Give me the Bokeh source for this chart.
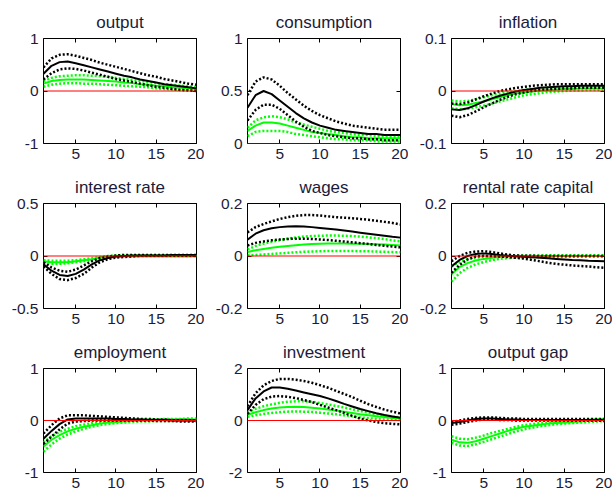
from bokeh.plotting import figure
from bokeh.layouts import column, row
from bokeh.models import Range1d, FixedTicker, LinearAxis, Span
from bokeh.embed import file_html
from bokeh.resources import INLINE

# Horizon (quarters)
periods = list(range(1, 21))
x_ticks = [5, 10, 15, 20]
x_tick_labels = ["5", "10", "15", "20"]

# --- impulse responses: black = model A (median, upper, lower), green = model B ---
output_b  = [0.33, 0.48, 0.55, 0.56, 0.53, 0.49, 0.45, 0.41, 0.37, 0.33, 0.29, 0.26, 0.22, 0.19, 0.16, 0.13, 0.11, 0.09, 0.07, 0.05]
output_bu = [0.45, 0.62, 0.69, 0.70, 0.67, 0.63, 0.59, 0.54, 0.50, 0.46, 0.42, 0.38, 0.34, 0.30, 0.27, 0.23, 0.20, 0.17, 0.14, 0.12]
output_bl = [0.22, 0.34, 0.41, 0.43, 0.42, 0.39, 0.35, 0.31, 0.27, 0.23, 0.20, 0.17, 0.14, 0.11, 0.08, 0.06, 0.04, 0.02, 0.01, 0.00]
output_g  = [0.14, 0.19, 0.21, 0.22, 0.22, 0.22, 0.21, 0.20, 0.19, 0.18, 0.16, 0.15, 0.13, 0.12, 0.10, 0.09, 0.07, 0.06, 0.05, 0.04]
output_gu = [0.19, 0.25, 0.28, 0.29, 0.30, 0.30, 0.29, 0.28, 0.27, 0.25, 0.23, 0.21, 0.19, 0.17, 0.15, 0.13, 0.12, 0.10, 0.09, 0.08]
output_gl = [0.08, 0.12, 0.14, 0.15, 0.15, 0.14, 0.14, 0.13, 0.12, 0.11, 0.10, 0.09, 0.08, 0.07, 0.05, 0.04, 0.03, 0.02, 0.02, 0.01]

cons_b  = [0.34, 0.46, 0.50, 0.47, 0.41, 0.35, 0.29, 0.24, 0.20, 0.17, 0.15, 0.13, 0.12, 0.11, 0.10, 0.09, 0.09, 0.08, 0.08, 0.08]
cons_bu = [0.46, 0.59, 0.63, 0.61, 0.55, 0.48, 0.42, 0.36, 0.31, 0.27, 0.24, 0.21, 0.19, 0.17, 0.16, 0.15, 0.14, 0.13, 0.13, 0.13]
cons_bl = [0.22, 0.32, 0.37, 0.37, 0.33, 0.27, 0.21, 0.16, 0.12, 0.10, 0.08, 0.07, 0.06, 0.05, 0.05, 0.04, 0.04, 0.03, 0.03, 0.03]
cons_g  = [0.12, 0.17, 0.20, 0.20, 0.19, 0.17, 0.15, 0.13, 0.11, 0.10, 0.09, 0.08, 0.07, 0.06, 0.06, 0.05, 0.05, 0.05, 0.05, 0.05]
cons_gu = [0.15, 0.22, 0.25, 0.26, 0.25, 0.23, 0.20, 0.18, 0.16, 0.14, 0.12, 0.11, 0.10, 0.09, 0.08, 0.08, 0.07, 0.07, 0.06, 0.06]
cons_gl = [0.07, 0.11, 0.12, 0.12, 0.12, 0.11, 0.09, 0.08, 0.07, 0.06, 0.05, 0.04, 0.04, 0.03, 0.03, 0.03, 0.02, 0.02, 0.02, 0.02]

infl_b  = [-0.035, -0.036, -0.033, -0.027, -0.020, -0.014, -0.009, -0.005, -0.001, 0.002, 0.004, 0.006, 0.007, 0.008, 0.009, 0.009, 0.010, 0.010, 0.010, 0.010]
infl_bu = [-0.024, -0.025, -0.022, -0.016, -0.010, -0.005, 0.000, 0.003, 0.006, 0.008, 0.010, 0.011, 0.012, 0.013, 0.013, 0.013, 0.013, 0.013, 0.013, 0.013]
infl_bl = [-0.047, -0.050, -0.046, -0.039, -0.031, -0.024, -0.017, -0.011, -0.006, -0.003, 0.000, 0.002, 0.003, 0.004, 0.005, 0.005, 0.006, 0.006, 0.006, 0.006]
infl_g  = [-0.025, -0.027, -0.026, -0.023, -0.020, -0.016, -0.012, -0.008, -0.005, -0.003, -0.001, 0.001, 0.002, 0.003, 0.004, 0.004, 0.005, 0.005, 0.005, 0.005]
infl_gu = [-0.018, -0.020, -0.019, -0.016, -0.012, -0.008, -0.005, -0.002, 0.000, 0.002, 0.004, 0.005, 0.006, 0.007, 0.007, 0.008, 0.008, 0.008, 0.008, 0.008]
infl_gl = [-0.033, -0.035, -0.034, -0.031, -0.028, -0.024, -0.020, -0.016, -0.012, -0.008, -0.006, -0.004, -0.002, -0.001, 0.000, 0.001, 0.001, 0.002, 0.002, 0.002]

rate_b  = [-0.08, -0.14, -0.18, -0.19, -0.17, -0.13, -0.08, -0.04, -0.02, -0.005, 0.000, 0.005, 0.005, 0.005, 0.005, 0.005, 0.010, 0.010, 0.010, 0.010]
rate_bu = [-0.06, -0.11, -0.14, -0.15, -0.13, -0.09, -0.05, -0.02, -0.005, 0.005, 0.010, 0.010, 0.010, 0.010, 0.010, 0.010, 0.010, 0.010, 0.010, 0.010]
rate_bl = [-0.10, -0.17, -0.22, -0.23, -0.21, -0.17, -0.11, -0.06, -0.03, -0.015, -0.010, -0.005, 0.000, 0.000, 0.000, 0.000, 0.000, 0.000, 0.000, 0.000]
rate_g  = [-0.05, -0.06, -0.06, -0.06, -0.05, -0.04, -0.03, -0.015, -0.005, 0.000, 0.000, 0.000, 0.000, 0.000, 0.000, 0.000, 0.000, 0.000, 0.000, 0.000]
rate_gu = [-0.04, -0.045, -0.045, -0.045, -0.04, -0.03, -0.02, -0.01, 0.000, 0.003, 0.003, 0.003, 0.003, 0.003, 0.003, 0.003, 0.003, 0.003, 0.003, 0.003]
rate_gl = [-0.065, -0.075, -0.075, -0.07, -0.06, -0.05, -0.035, -0.02, -0.01, -0.005, -0.003, -0.003, -0.003, -0.003, -0.003, -0.003, -0.003, -0.003, -0.003, -0.003]

wage_b  = [0.062, 0.085, 0.098, 0.106, 0.110, 0.112, 0.113, 0.112, 0.110, 0.107, 0.104, 0.101, 0.097, 0.093, 0.089, 0.085, 0.081, 0.077, 0.073, 0.070]
wage_bu = [0.090, 0.110, 0.122, 0.132, 0.141, 0.148, 0.153, 0.156, 0.156, 0.154, 0.151, 0.148, 0.146, 0.144, 0.141, 0.138, 0.134, 0.130, 0.126, 0.120]
wage_bl = [0.040, 0.050, 0.055, 0.060, 0.063, 0.065, 0.066, 0.066, 0.065, 0.063, 0.061, 0.058, 0.055, 0.052, 0.049, 0.046, 0.042, 0.039, 0.036, 0.033]
wage_g  = [0.015, 0.022, 0.027, 0.031, 0.035, 0.038, 0.041, 0.044, 0.046, 0.047, 0.048, 0.048, 0.048, 0.047, 0.047, 0.046, 0.045, 0.044, 0.042, 0.040]
wage_gu = [0.025, 0.038, 0.047, 0.054, 0.060, 0.066, 0.071, 0.074, 0.076, 0.077, 0.078, 0.078, 0.077, 0.076, 0.074, 0.071, 0.068, 0.064, 0.060, 0.056]
wage_gl = [0.002, 0.004, 0.006, 0.008, 0.010, 0.012, 0.014, 0.016, 0.017, 0.018, 0.019, 0.019, 0.019, 0.019, 0.018, 0.018, 0.017, 0.016, 0.015, 0.014]

rent_b  = [-0.040, -0.015, 0.000, 0.008, 0.010, 0.008, 0.004, 0.001, -0.001, -0.003, -0.005, -0.007, -0.009, -0.011, -0.013, -0.015, -0.016, -0.018, -0.019, -0.020]
rent_bu = [-0.020, 0.000, 0.012, 0.017, 0.018, 0.015, 0.010, 0.005, 0.002, 0.001, 0.001, 0.000, 0.000, 0.000, 0.000, 0.000, 0.000, 0.000, 0.000, 0.000]
rent_bl = [-0.064, -0.034, -0.013, -0.002, 0.001, 0.000, -0.002, -0.004, -0.007, -0.010, -0.015, -0.020, -0.026, -0.030, -0.033, -0.036, -0.038, -0.040, -0.043, -0.045]
rent_g  = [-0.070, -0.042, -0.027, -0.017, -0.011, -0.007, -0.004, -0.002, -0.001, 0.000, 0.000, 0.000, 0.000, 0.000, 0.000, 0.000, 0.000, 0.000, 0.000, 0.000]
rent_gu = [-0.040, -0.022, -0.012, -0.006, -0.003, -0.001, 0.000, 0.001, 0.001, 0.002, 0.002, 0.002, 0.003, 0.003, 0.003, 0.003, 0.003, 0.003, 0.003, 0.003]
rent_gl = [-0.098, -0.065, -0.045, -0.032, -0.023, -0.016, -0.011, -0.008, -0.006, -0.005, -0.004, -0.004, -0.003, -0.003, -0.003, -0.003, -0.002, -0.002, -0.002, -0.002]

empl_b  = [-0.35, -0.20, -0.07, 0.02, 0.04, 0.04, 0.04, 0.04, 0.04, 0.03, 0.03, 0.02, 0.02, 0.01, 0.01, 0.01, 0.00, 0.00, 0.00, 0.00]
empl_bu = [-0.25, -0.09, 0.04, 0.10, 0.10, 0.10, 0.09, 0.08, 0.07, 0.06, 0.05, 0.04, 0.03, 0.03, 0.02, 0.02, 0.01, 0.01, 0.01, 0.00]
empl_bl = [-0.45, -0.31, -0.17, -0.06, -0.02, -0.01, 0.00, 0.00, 0.00, 0.00, 0.00, 0.00, 0.00, 0.00, -0.01, -0.01, -0.01, -0.02, -0.02, -0.02]
empl_g  = [-0.50, -0.37, -0.28, -0.21, -0.16, -0.12, -0.09, -0.06, -0.04, -0.03, -0.02, -0.01, 0.00, 0.00, 0.01, 0.01, 0.01, 0.02, 0.02, 0.02]
empl_gu = [-0.42, -0.30, -0.22, -0.16, -0.11, -0.08, -0.05, -0.03, -0.01, 0.00, 0.01, 0.01, 0.02, 0.02, 0.02, 0.03, 0.03, 0.03, 0.04, 0.04]
empl_gl = [-0.60, -0.46, -0.35, -0.27, -0.21, -0.16, -0.12, -0.09, -0.07, -0.05, -0.04, -0.03, -0.02, -0.02, -0.01, -0.01, -0.01, 0.00, 0.00, 0.00]

inv_b  = [0.40, 0.85, 1.12, 1.27, 1.27, 1.22, 1.15, 1.08, 1.01, 0.94, 0.85, 0.75, 0.64, 0.54, 0.44, 0.36, 0.28, 0.21, 0.15, 0.11]
inv_bu = [0.55, 1.05, 1.35, 1.52, 1.60, 1.60, 1.57, 1.52, 1.45, 1.36, 1.26, 1.14, 1.02, 0.90, 0.76, 0.63, 0.52, 0.42, 0.34, 0.27]
inv_bl = [0.25, 0.60, 0.82, 0.92, 0.94, 0.91, 0.86, 0.79, 0.71, 0.60, 0.50, 0.40, 0.29, 0.18, 0.07, 0.00, -0.06, -0.10, -0.13, -0.15]
inv_g  = [0.22, 0.32, 0.40, 0.46, 0.50, 0.52, 0.53, 0.52, 0.49, 0.46, 0.42, 0.38, 0.34, 0.29, 0.24, 0.20, 0.16, 0.13, 0.10, 0.08]
inv_gu = [0.30, 0.45, 0.55, 0.62, 0.68, 0.72, 0.74, 0.74, 0.72, 0.67, 0.62, 0.56, 0.50, 0.43, 0.36, 0.30, 0.24, 0.19, 0.15, 0.12]
inv_gl = [0.14, 0.20, 0.25, 0.29, 0.32, 0.34, 0.35, 0.34, 0.33, 0.30, 0.27, 0.24, 0.20, 0.16, 0.12, 0.09, 0.06, 0.04, 0.03, 0.02]

gap_b  = [-0.05, -0.03, 0.00, 0.03, 0.04, 0.04, 0.03, 0.02, 0.02, 0.01, 0.01, 0.01, 0.01, 0.01, 0.01, 0.01, 0.01, 0.01, 0.01, 0.01]
gap_bu = [-0.03, 0.00, 0.03, 0.05, 0.06, 0.06, 0.05, 0.04, 0.04, 0.03, 0.03, 0.03, 0.03, 0.03, 0.03, 0.03, 0.03, 0.03, 0.03, 0.03]
gap_bl = [-0.08, -0.06, -0.03, 0.00, 0.02, 0.02, 0.01, 0.01, 0.00, 0.00, 0.00, 0.00, 0.00, 0.00, 0.00, 0.00, 0.00, 0.00, 0.00, -0.01]
gap_g  = [-0.37, -0.42, -0.43, -0.40, -0.35, -0.30, -0.25, -0.20, -0.16, -0.12, -0.10, -0.08, -0.06, -0.05, -0.04, -0.03, -0.02, -0.01, 0.00, 0.01]
gap_gu = [-0.30, -0.35, -0.36, -0.33, -0.29, -0.24, -0.20, -0.16, -0.12, -0.09, -0.07, -0.05, -0.04, -0.03, -0.02, -0.01, 0.00, 0.01, 0.02, 0.03]
gap_gl = [-0.43, -0.48, -0.49, -0.46, -0.41, -0.36, -0.31, -0.26, -0.21, -0.17, -0.14, -0.11, -0.09, -0.07, -0.06, -0.05, -0.04, -0.03, -0.02, -0.01]

titles = ["output", "consumption", "inflation",
          "interest rate", "wages", "rental rate capital",
          "employment", "investment", "output gap"]

y_ticks = [[-1, 0, 1], [0, 0.5, 1], [-0.1, 0, 0.1],
           [-0.5, 0, 0.5], [-0.2, 0, 0.2], [-0.2, 0, 0.2],
           [-1, 0, 1], [-2, 0, 2], [-1, 0, 1]]
y_tick_labels = [["-1", "0", "1"], ["0", "0.5", "1"], ["-0.1", "0", "0.1"],
                 ["-0.5", "0", "0.5"], ["-0.2", "0", "0.2"], ["-0.2", "0", "0.2"],
                 ["-1", "0", "1"], ["-2", "0", "2"], ["-1", "0", "1"]]

series = [
    (output_b, output_bu, output_bl, output_g, output_gu, output_gl),
    (cons_b, cons_bu, cons_bl, cons_g, cons_gu, cons_gl),
    (infl_b, infl_bu, infl_bl, infl_g, infl_gu, infl_gl),
    (rate_b, rate_bu, rate_bl, rate_g, rate_gu, rate_gl),
    (wage_b, wage_bu, wage_bl, wage_g, wage_gu, wage_gl),
    (rent_b, rent_bu, rent_bl, rent_g, rent_gu, rent_gl),
    (empl_b, empl_bu, empl_bl, empl_g, empl_gu, empl_gl),
    (inv_b, inv_bu, inv_bl, inv_g, inv_gu, inv_gl),
    (gap_b, gap_bu, gap_bl, gap_g, gap_gu, gap_gl),
]

FONT = "Liberation Sans"
TEXT_COLOR = "#1b1b3a"
GREEN = "#00ff00"
DOT = "2 2"


def style_axis(ax, ticks, labels, show_labels=True):
    ax.ticker = FixedTicker(ticks=ticks)
    ax.axis_line_color = None
    ax.major_tick_in = 4
    ax.major_tick_out = 0
    ax.major_tick_line_color = "black"
    ax.minor_tick_line_color = None
    if show_labels:
        ax.major_label_overrides = {t: s for t, s in zip(ticks, labels)}
        ax.major_label_text_font = FONT
        ax.major_label_text_font_size = "15.5px"
        ax.major_label_text_color = TEXT_COLOR
        ax.major_label_standoff = 5
    else:
        ax.major_label_overrides = {t: "" for t in ticks}
        ax.major_label_text_font_size = "0px"
        ax.major_label_standoff = 0


def panel(i, h):
    yt = y_ticks[i]
    p = figure(width=204, height=h, output_backend="svg", toolbar_location=None,
               x_range=Range1d(1, 20), y_range=Range1d(yt[0], yt[-1]),
               min_border_left=43, min_border_right=8,
               min_border_top=38, min_border_bottom=h - 38 - 105 + (0 if h == 165 else 1),
               background_fill_color="white", border_fill_color="white",
               outline_line_color="black", outline_line_width=1)
    p.grid.visible = False
    p.title.text = titles[i]
    p.title.text_font = FONT
    p.title.text_font_size = "17px"
    p.title.text_font_style = "normal"
    p.title.text_color = TEXT_COLOR
    p.title.align = "center"
    p.title.standoff = 13

    style_axis(p.xaxis[0], x_ticks, x_tick_labels)
    style_axis(p.yaxis[0], yt, y_tick_labels[i])
    top = LinearAxis()
    style_axis(top, x_ticks, x_tick_labels, show_labels=False)
    p.add_layout(top, "above")
    right = LinearAxis()
    style_axis(right, yt, y_tick_labels[i], show_labels=False)
    p.add_layout(right, "right")

    p.add_layout(Span(location=0, dimension="width", line_color="red", line_width=1.2))

    b, bu, bl, g, gu, gl = series[i]
    p.line(periods, g, line_color=GREEN, line_width=2)
    p.line(periods, gu, line_color=GREEN, line_width=2.5, line_dash=DOT)
    p.line(periods, gl, line_color=GREEN, line_width=2.5, line_dash=DOT)
    p.line(periods, b, line_color="black", line_width=2)
    p.line(periods, bu, line_color="black", line_width=2.5, line_dash=DOT)
    p.line(periods, bl, line_color="black", line_width=2.5, line_dash=DOT)
    return p


rows = []
for r, h in enumerate([165, 165, 164]):
    rows.append(row(*[panel(3 * r + c, h) for c in range(3)], spacing=0))
layout = column(*rows, spacing=0)

open("out.html", "w").write(file_html(layout, INLINE))
